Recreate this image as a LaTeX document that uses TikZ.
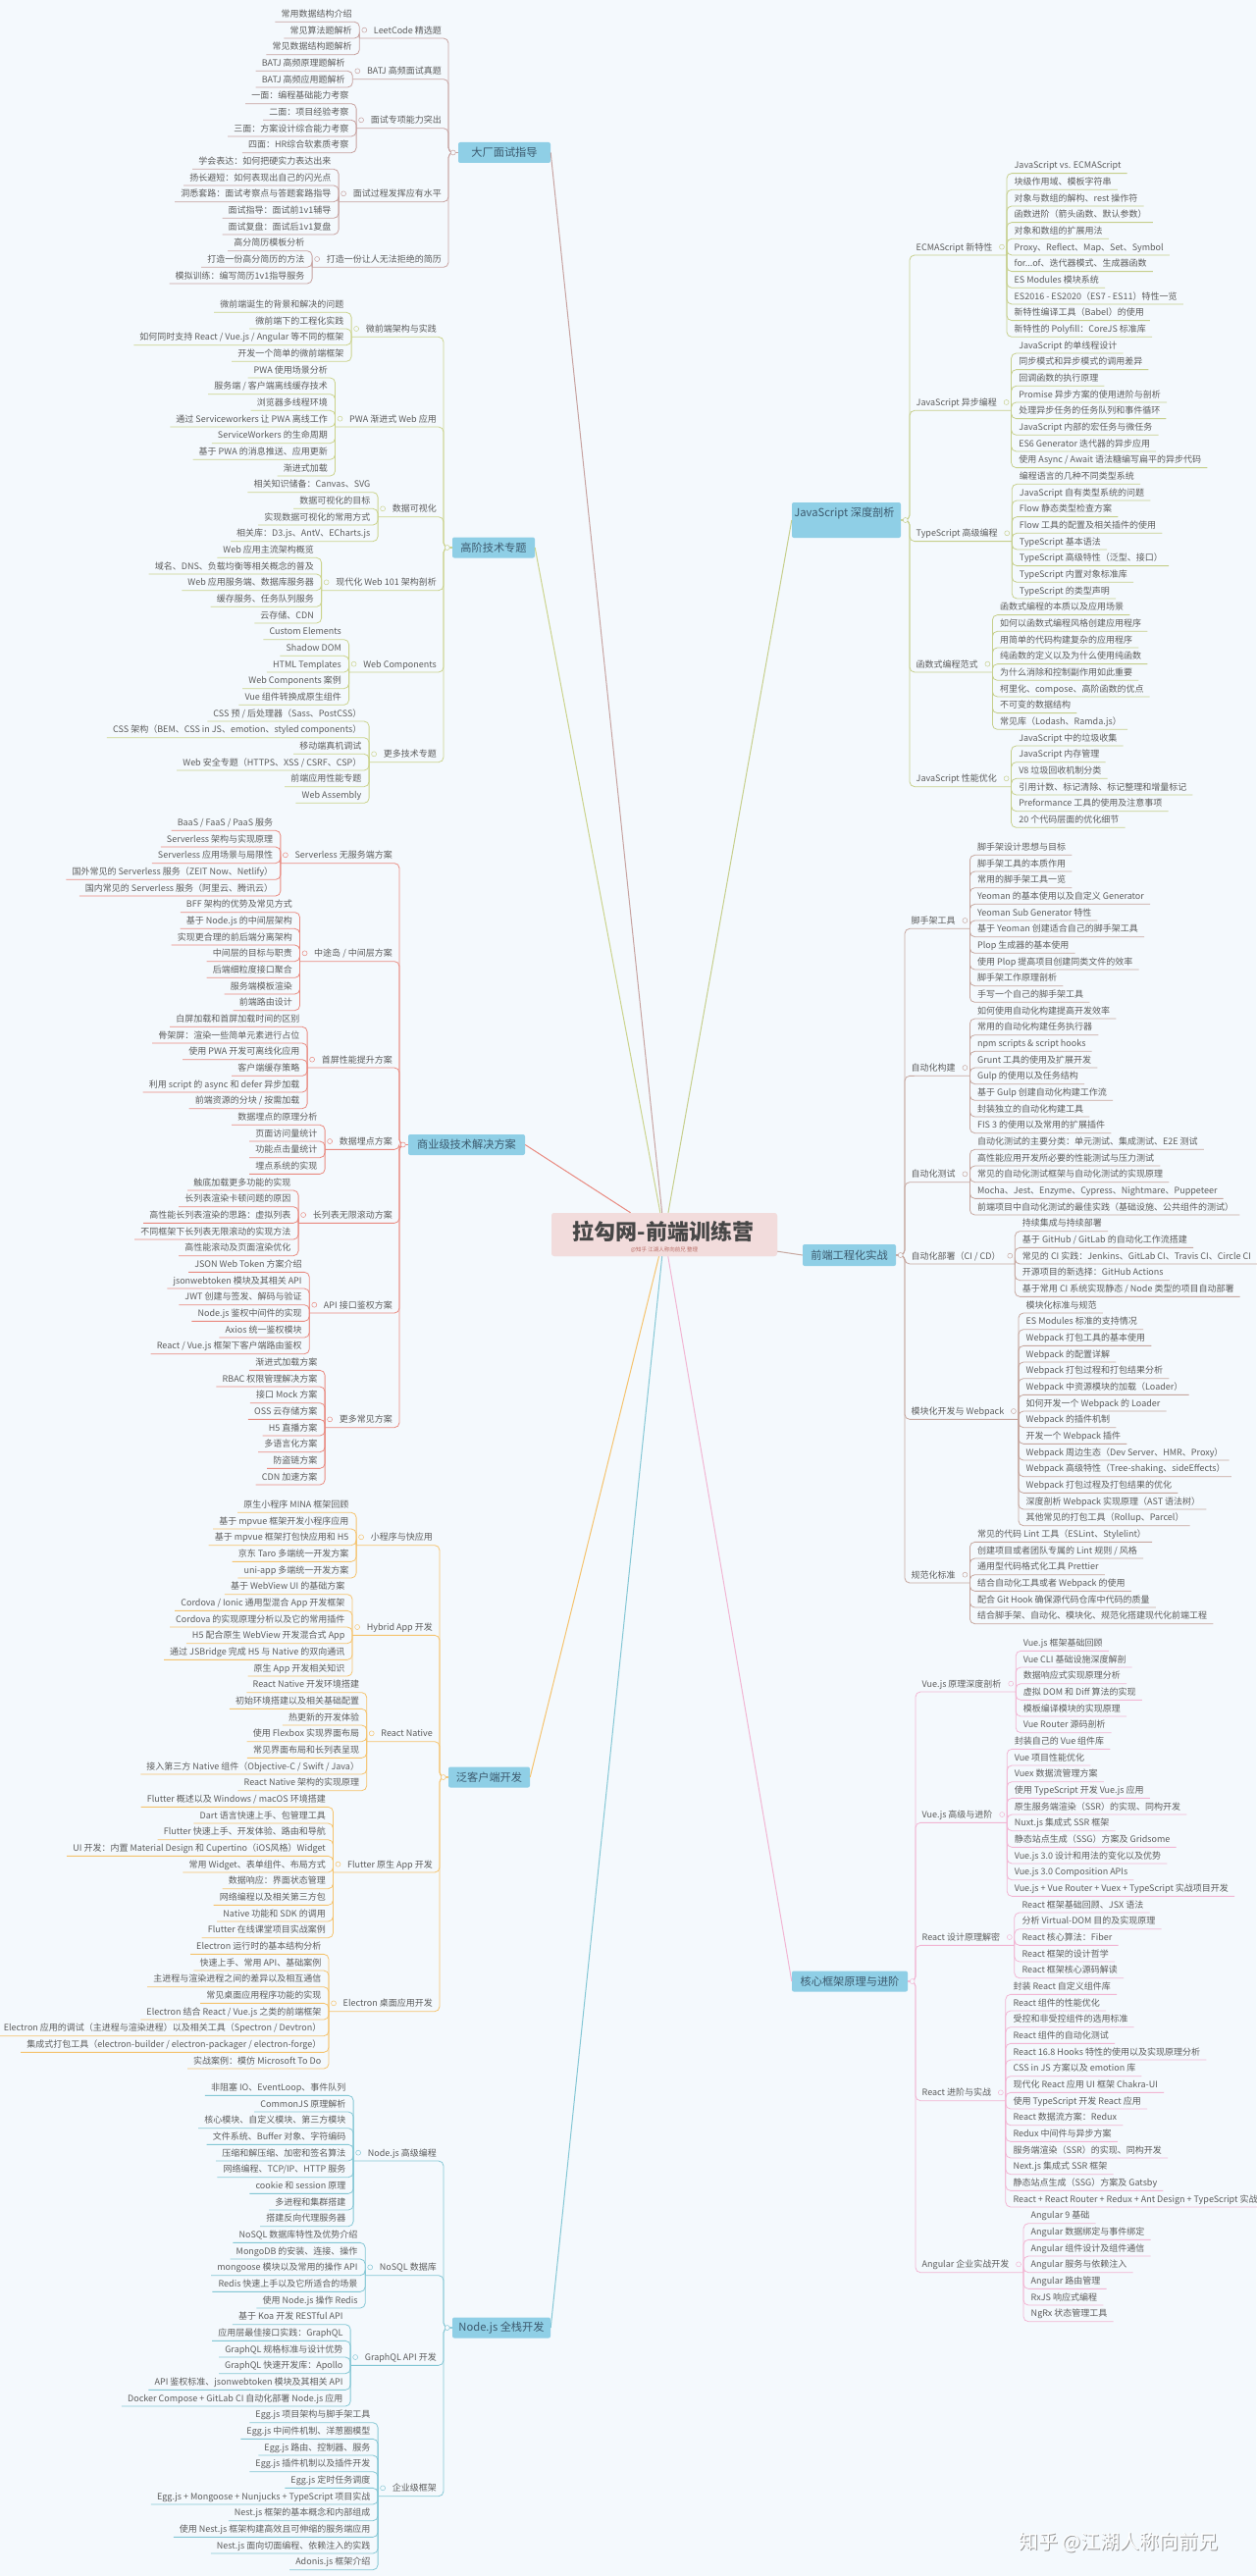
\documentclass[tikz,border=0pt]{standalone}
\usepackage{fontspec}
\setmainfont{Noto Sans CJK SC}
\usetikzlibrary{positioning, calc}

\definecolor{bg}{HTML}{F4F9FD}
\definecolor{boxblue}{HTML}{8FCFE6}
\definecolor{titlepink}{HTML}{F2DCDC}
\definecolor{ink}{HTML}{5C5C5C}
\definecolor{mainink}{HTML}{3C5A6E}
\definecolor{colA}{HTML}{C7A2A0}
\definecolor{colB}{HTML}{CBD38C}
\definecolor{colC}{HTML}{E98A80}
\definecolor{colD}{HTML}{F4C36E}
\definecolor{colE}{HTML}{84C7D5}
\definecolor{colF}{HTML}{C6CF8C}
\definecolor{colG}{HTML}{C6A79F}
\definecolor{colH}{HTML}{F2B5D3}

\newcount\rowno
\newcount\nleaf
\def\rowh{16.667}

% one sub topic with its leaves, left of the trunk
\newcommand\subL[5]{%
  \global\nleaf=0
  \foreach \lf in {#5} {\global\advance\nleaf by 1}
  \pgfmathsetmacro\yfirst{\ytop+\rowh*\the\rowno}
  \pgfmathsetmacro\ysub{\yfirst+\rowh*(\the\nleaf-1)/2}
  \pgfmathsetmacro\yline{\ysub+\rowh/2}
  \node (#1) at (#3-7,\ysub) [topic, anchor=east] {#4};
  \coordinate (#1-j) at ([shift={(-14.5pt,-8.33pt)}]#1.west);
  \coordinate (#1-t) at (#3,\yline);
  \draw[link] (#2.west) -- (#2.west -| #1-t) -- (#1-t) -- (#1-j);
  \node[knob] (#1-k) at ([xshift=-9.5pt]#1.west) {};
  \foreach \lf [count=\k from 0] in {#5} {
    \pgfmathsetmacro\yl{\yfirst+\rowh*\k}
    \node (#1-\k) at (#1-j |- 0,\yl) [leaf, anchor=east, xshift=-7.5pt] {\ignorespaces\lf\unskip};
    \coordinate (#1-\k-u) at ([shift={(-6pt,-8.33pt)}]#1-\k.west);
    \draw[link] (#1-j) -- (#1-j |- #1-\k-u) -- (#1-\k-u);
  }
  \global\advance\rowno by \nleaf
}

% the same, right of the trunk
\newcommand\subR[5]{%
  \global\nleaf=0
  \foreach \lf in {#5} {\global\advance\nleaf by 1}
  \pgfmathsetmacro\yfirst{\ytop+\rowh*\the\rowno}
  \pgfmathsetmacro\ysub{\yfirst+\rowh*(\the\nleaf-1)/2}
  \pgfmathsetmacro\yline{\ysub+\rowh/2}
  \node (#1) at (#3+6.5,\ysub) [topic, anchor=west] {#4};
  \coordinate (#1-j) at ([shift={(14.5pt,-8.33pt)}]#1.east);
  \coordinate (#1-t) at (#3,\yline);
  \draw[link] (#2.east) -- (#2.east -| #1-t) -- (#1-t) -- (#1-j);
  \node[knob] (#1-k) at ([xshift=9.5pt]#1.east) {};
  \foreach \lf [count=\k from 0] in {#5} {
    \pgfmathsetmacro\yl{\yfirst+\rowh*\k}
    \node (#1-\k) at (#1-j |- 0,\yl) [leaf, anchor=west, xshift=7.5pt] {\ignorespaces\lf\unskip};
    \coordinate (#1-\k-u) at ([shift={(6pt,-8.33pt)}]#1-\k.east);
    \draw[link] (#1-j) -- (#1-j |- #1-\k-u) -- (#1-\k-u);
  }
  \global\advance\rowno by \nleaf
}

\begin{document}
\begin{tikzpicture}[x=1pt, y=-1pt,
  leaf/.style={inner sep=0pt, text height=8pt, text depth=1pt, text=ink, font=\fontsize{9}{10}\selectfont},
  topic/.style={leaf},
  link/.style={line width=0.8pt, rounded corners=5pt},
  knob/.style={circle, draw, fill=bg, inner sep=0pt, minimum size=5pt, line width=0.5pt},
  mainbox/.style={fill=boxblue, rounded corners=2pt, text=mainink, inner sep=0pt, minimum height=21pt, font=\fontsize{11.2}{13}\selectfont},
  hub/.style={line width=1pt}]
\useasboundingbox (0,0) rectangle (1280,2625);
\fill[bg] (0,0) rectangle (1280,2625);

% centre and main topics
\node[fill=titlepink, rounded corners=3pt, minimum width=230pt, minimum height=44pt, inner sep=0pt] (c) at (677,1258) {};
\node[mainbox, minimum width=94pt] (dc) at (514,155.5) {大厂面试指导};
\node[mainbox, minimum width=84pt] (gj) at (503,558) {高阶技术专题};
\node[mainbox, minimum width=119pt] (sy) at (475.5,1166.5) {商业级技术解决方案};
\node[mainbox, minimum width=83pt] (fk) at (498.5,1811) {泛客户端开发};
\node[mainbox, minimum width=100pt] (nd) at (511,2372) {Node.js 全栈开发};
\node[mainbox, minimum width=111pt, minimum height=36pt] (js) at (862.5,530) {};
\node[mainbox, fill=none] (js-t) at (860.5,523) {JavaScript 深度剖析};
\node[mainbox, minimum width=95pt, minimum height=22pt] (gc) at (865.5,1279) {前端工程化实战};
\node[mainbox, minimum width=118pt] (hx) at (866,2019) {核心框架原理与进阶};

\draw[hub, colA] (c) -- (dc.east);
\draw[hub, colB] (c) -- (gj.east);
\draw[hub, colC] (c) -- (sy.east);
\draw[hub, colD] (c) -- (fk.east);
\draw[hub, colE] (c) -- (nd.east);
\draw[hub, colF] (c) -- (js.west);
\draw[hub, colG] (c) -- (gc.west);
\draw[hub, colH] (c) -- (hx.west);
\node[fill=titlepink, rounded corners=3pt, minimum width=230pt, minimum height=44pt, inner sep=0pt] (c-b) at (677,1258) {};
\node[text=black!72, font=\fontsize{22}{24}\selectfont\bfseries] (c-t) at (676,1255) {拉勾网-前端训练营};
\node[text=colC!80!black, font=\fontsize{5.5}{6}\selectfont] (c-s) at (677,1274) {@知乎 江湖人称向前兄 整理};

% 大厂面试指导
\begin{scope}[link/.append style={draw=colA}, knob/.append style={draw=colA}]
\global\rowno=0 \def\ytop{14}
\subL{a1}{dc}{457}{LeetCode 精选题}{常用数据结构介绍,常见算法题解析,常见数据结构题解析}
\subL{a2}{dc}{457}{BATJ 高频面试真题}{BATJ 高频原理题解析,BATJ 高频应用题解析}
\subL{a3}{dc}{457}{面试专项能力突出}{一面：编程基础能力考察,二面：项目经验考察,三面：方案设计综合能力考察,四面：HR综合软素质考察}
\subL{a4}{dc}{457}{面试过程发挥应有水平}{学会表达：如何把硬实力表达出来,扬长避短：如何表现出自己的闪光点,洞悉套路：面试考察点与答题套路指导,面试指导：面试前1v1辅导,面试复盘：面试后1v1复盘}
\subL{a5}{dc}{457}{打造一份让人无法拒绝的简历}{高分简历模板分析,打造一份高分简历的方法,模拟训练：编写简历1v1指导服务}
\node[knob] (dc-k) at ([xshift=-5pt]dc.west) {};
\end{scope}

% 高阶技术专题
\begin{scope}[link/.append style={draw=colB}, knob/.append style={draw=colB}]
\global\rowno=0 \def\ytop{310}
\subL{b1}{gj}{452}{微前端架构与实践}{微前端诞生的背景和解决的问题,微前端下的工程化实践,如何同时支持 React / Vue.js / Angular 等不同的框架,开发一个简单的微前端框架}
\subL{b2}{gj}{452}{PWA 渐进式 Web 应用}{PWA 使用场景分析,服务端 / 客户端离线缓存技术,浏览器多线程环境,通过 Serviceworkers 让 PWA 离线工作,ServiceWorkers 的生命周期,基于 PWA 的消息推送、应用更新,渐进式加载}
\subL{b3}{gj}{452}{数据可视化}{相关知识储备：Canvas、SVG,数据可视化的目标,实现数据可视化的常用方式,相关库：D3.js、AntV、ECharts.js}
\subL{b4}{gj}{452}{现代化 Web 101 架构剖析}{Web 应用主流架构概览,域名、DNS、负载均衡等相关概念的普及,Web 应用服务端、数据库服务器,缓存服务、任务队列服务,云存储、CDN}
\subL{b5}{gj}{452}{Web Components}{Custom Elements,Shadow DOM,HTML Templates,Web Components 案例,Vue 组件转换成原生组件}
\subL{b6}{gj}{452}{更多技术专题}{CSS 预 / 后处理器（Sass、PostCSS）,CSS 架构（BEM、CSS in JS、emotion、styled components）,移动端真机调试,Web 安全专题（HTTPS、XSS / CSRF、CSP）,前端应用性能专题,Web Assembly}
\node[knob] (gj-k) at ([xshift=-5pt]gj.west) {};
\end{scope}

% 商业级技术解决方案
\begin{scope}[link/.append style={draw=colC}, knob/.append style={draw=colC}]
\global\rowno=0 \def\ytop{838}
\subL{c1}{sy}{407}{Serverless 无服务端方案}{BaaS / FaaS / PaaS 服务,Serverless 架构与实现原理,Serverless 应用场景与局限性,国外常见的 Serverless 服务（ZEIT Now、Netlify）,国内常见的 Serverless 服务（阿里云、腾讯云）}
\subL{c2}{sy}{407}{中途岛 / 中间层方案}{BFF 架构的优势及常见方式,基于 Node.js 的中间层架构,实现更合理的前后端分离架构,中间层的目标与职责,后端细粒度接口聚合,服务端模板渲染,前端路由设计}
\subL{c3}{sy}{407}{首屏性能提升方案}{白屏加载和首屏加载时间的区别,骨架屏：渲染一些简单元素进行占位,使用 PWA 开发可离线化应用,客户端缓存策略,利用 script 的 async 和 defer 异步加载,前端资源的分块 / 按需加载}
\subL{c4}{sy}{407}{数据埋点方案}{数据埋点的原理分析,页面访问量统计,功能点击量统计,埋点系统的实现}
\subL{c5}{sy}{407}{长列表无限滚动方案}{触底加载更多功能的实现,长列表渲染卡顿问题的原因,高性能长列表渲染的思路：虚拟列表,不同框架下长列表无限滚动的实现方法,高性能滚动及页面渲染优化}
\subL{c6}{sy}{407}{API 接口鉴权方案}{JSON Web Token 方案介绍,jsonwebtoken 模块及其相关 API,JWT 创建与签发、解码与验证,Node.js 鉴权中间件的实现,Axios 统一鉴权模块,React / Vue.js 框架下客户端路由鉴权}
\subL{c7}{sy}{407}{更多常见方案}{渐进式加载方案,RBAC 权限管理解决方案,接口 Mock 方案,OSS 云存储方案,H5 直播方案,多语言化方案,防盗链方案,CDN 加速方案}
\node[knob] (sy-k) at ([xshift=-5pt]sy.west) {};
\end{scope}

% 泛客户端开发
\begin{scope}[link/.append style={draw=colD}, knob/.append style={draw=colD}]
\global\rowno=0 \def\ytop{1533}
\subL{d1}{fk}{448}{小程序与快应用}{原生小程序 MINA 框架回顾,基于 mpvue 框架开发小程序应用,基于 mpvue 框架打包快应用和 H5,京东 Taro 多端统一开发方案,uni-app 多端统一开发方案}
\subL{d2}{fk}{448}{Hybrid App 开发}{基于 WebView UI 的基础方案,Cordova / Ionic 通用型混合 App 开发框架,Cordova 的实现原理分析以及它的常用插件,H5 配合原生 WebView 开发混合式 App,通过 JSBridge 完成 H5 与 Native 的双向通讯,原生 App 开发相关知识}
\subL{d3}{fk}{448}{React Native}{React Native 开发环境搭建,初始环境搭建以及相关基础配置,热更新的开发体验,使用 Flexbox 实现界面布局,常见界面布局和长列表呈现,接入第三方 Native 组件（Objective-C / Swift / Java）,React Native 架构的实现原理}
\subL{d4}{fk}{448}{Flutter 原生 App 开发}{Flutter 概述以及 Windows / macOS 环境搭建,Dart 语言快速上手、包管理工具,Flutter 快速上手、开发体验、路由和导航,UI 开发：内置 Material Design 和 Cupertino（iOS风格）Widget,常用 Widget、表单组件、布局方式,数据响应：界面状态管理,网络编程以及相关第三方包,Native 功能和 SDK 的调用,Flutter 在线课堂项目实战案例}
\subL{d5}{fk}{448}{Electron 桌面应用开发}{Electron 运行时的基本结构分析,快速上手、常用 API、基础案例,主进程与渲染进程之间的差异以及相互通信,常见桌面应用程序功能的实现,Electron 结合 React / Vue.js 之类的前端框架,Electron 应用的调试（主进程与渲染进程）以及相关工具（Spectron / Devtron）,集成式打包工具（electron-builder / electron-packager / electron-forge）,实战案例：模仿 Microsoft To Do}
\node[knob] (fk-k) at ([xshift=-5pt]fk.west) {};
\end{scope}

% Node.js 全栈开发
\begin{scope}[link/.append style={draw=colE}, knob/.append style={draw=colE}]
\global\rowno=0 \def\ytop{2127}
\subL{e1}{nd}{452}{Node.js 高级编程}{非阻塞 IO、EventLoop、事件队列,CommonJS 原理解析,核心模块、自定义模块、第三方模块,文件系统、Buffer 对象、字符编码,压缩和解压缩、加密和签名算法,网络编程、TCP/IP、HTTP 服务,cookie 和 session 原理,多进程和集群搭建,搭建反向代理服务器}
\subL{e2}{nd}{452}{NoSQL 数据库}{NoSQL 数据库特性及优势介绍,MongoDB 的安装、连接、操作,mongoose 模块以及常用的操作 API,Redis 快速上手以及它所适合的场景,使用 Node.js 操作 Redis}
\subL{e3}{nd}{452}{GraphQL API 开发}{基于 Koa 开发 RESTful API,应用层最佳接口实践：GraphQL,GraphQL 规格标准与设计优势,GraphQL 快速开发库：Apollo,API 鉴权标准、jsonwebtoken 模块及其相关 API,Docker Compose + GitLab CI 自动化部署 Node.js 应用}
\subL{e4}{nd}{452}{企业级框架}{Egg.js 项目架构与脚手架工具,Egg.js 中间件机制、洋葱圈模型,Egg.js 路由、控制器、服务,Egg.js 插件机制以及插件开发,Egg.js 定时任务调度,Egg.js + Mongoose + Nunjucks + TypeScript 项目实战,Nest.js 框架的基本概念和内部组成,使用 Nest.js 框架构建高效且可伸缩的服务端应用,Nest.js 面向切面编程、依赖注入的实践,Adonis.js 框架介绍}
\node[knob] (nd-k) at ([xshift=-5pt]nd.west) {};
\end{scope}

% JavaScript 深度剖析
\begin{scope}[link/.append style={draw=colF}, knob/.append style={draw=colF}]
\global\rowno=0 \def\ytop{168.3}
\subR{f1}{js}{927}{ECMAScript 新特性}{JavaScript vs. ECMAScript,块级作用域、模板字符串,对象与数组的解构、rest 操作符,函数进阶（箭头函数、默认参数）,对象和数组的扩展用法,Proxy、Reflect、Map、Set、Symbol,for{.}..of、迭代器模式、生成器函数,ES Modules 模块系统,ES2016 - ES2020（ES7 - ES11）特性一览,新特性编译工具（Babel）的使用,新特性的 Polyfill：CoreJS 标准库}
\subR{f2}{js}{927}{JavaScript 异步编程}{JavaScript 的单线程设计,同步模式和异步模式的调用差异,回调函数的执行原理,Promise 异步方案的使用进阶与剖析,处理异步任务的任务队列和事件循环,JavaScript 内部的宏任务与微任务,ES6 Generator 迭代器的异步应用,使用 Async / Await 语法糖编写扁平的异步代码}
\subR{f3}{js}{927}{TypeScript 高级编程}{编程语言的几种不同类型系统,JavaScript 自有类型系统的问题,Flow 静态类型检查方案,Flow 工具的配置及相关插件的使用,TypeScript 基本语法,TypeScript 高级特性（泛型、接口）,TypeScript 内置对象标准库,TypeScript 的类型声明}
\subR{f4}{js}{927}{函数式编程范式}{函数式编程的本质以及应用场景,如何以函数式编程风格创建应用程序,用简单的代码构建复杂的应用程序,纯函数的定义以及为什么使用纯函数,为什么消除和控制副作用如此重要,柯里化、compose、高阶函数的优点,不可变的数据结构,常见库（Lodash、Ramda.js）}
\subR{f5}{js}{927}{JavaScript 性能优化}{JavaScript 中的垃圾收集,JavaScript 内存管理,V8 垃圾回收机制分类,引用计数、标记清除、标记整理和增量标记,Preformance 工具的使用及注意事项,20 个代码层面的优化细节}
\node[knob] (js-k) at ([xshift=4.5pt]js.east) {};
\end{scope}

% 前端工程化实战
\begin{scope}[link/.append style={draw=colG}, knob/.append style={draw=colG}]
\global\rowno=0 \def\ytop{863}
\subR{g1}{gc}{922}{脚手架工具}{脚手架设计思想与目标,脚手架工具的本质作用,常用的脚手架工具一览,Yeoman 的基本使用以及自定义 Generator,Yeoman Sub Generator 特性,基于 Yeoman 创建适合自己的脚手架工具,Plop 生成器的基本使用,使用 Plop 提高项目创建同类文件的效率,脚手架工作原理剖析,手写一个自己的脚手架工具}
\subR{g2}{gc}{922}{自动化构建}{如何使用自动化构建提高开发效率,常用的自动化构建任务执行器,npm scripts \& script hooks,Grunt 工具的使用及扩展开发,Gulp 的使用以及任务结构,基于 Gulp 创建自动化构建工作流,封装独立的自动化构建工具,FIS 3 的使用以及常用的扩展插件}
\subR{g3}{gc}{922}{自动化测试}{自动化测试的主要分类：单元测试、集成测试、E2E 测试,高性能应用开发所必要的性能测试与压力测试,常见的自动化测试框架与自动化测试的实现原理,Mocha、Jest、Enzyme、Cypress、Nightmare、Puppeteer,前端项目中自动化测试的最佳实践（基础设施、公共组件的测试）}
\subR{g4}{gc}{922}{自动化部署（CI / CD）}{持续集成与持续部署,基于 GitHub / GitLab 的自动化工作流搭建,常见的 CI 实践：Jenkins、GitLab CI、Travis CI、Circle CI,开源项目的新选择：GitHub Actions,基于常用 CI 系统实现静态 / Node 类型的项目自动部署}
\subR{g5}{gc}{922}{模块化开发与 Webpack}{模块化标准与规范,ES Modules 标准的支持情况,Webpack 打包工具的基本使用,Webpack 的配置详解,Webpack 打包过程和打包结果分析,Webpack 中资源模块的加载（Loader）,如何开发一个 Webpack 的 Loader,Webpack 的插件机制,开发一个 Webpack 插件,Webpack 周边生态（Dev Server、HMR、Proxy）,Webpack 高级特性（Tree-shaking、sideEffects）,Webpack 打包过程及打包结果的优化,深度剖析 Webpack 实现原理（AST 语法树）,其他常见的打包工具（Rollup、Parcel）}
\subR{g6}{gc}{922}{规范化标准}{常见的代码 Lint 工具（ESLint、Stylelint）,创建项目或者团队专属的 Lint 规则 / 风格,通用型代码格式化工具 Prettier,结合自动化工具或者 Webpack 的使用,配合 Git Hook 确保源代码仓库中代码的质量,结合脚手架、自动化、模块化、规范化搭建现代化前端工程}
\node[knob] (gc-k) at ([xshift=4.5pt]gc.east) {};
\end{scope}

% 核心框架原理与进阶
\begin{scope}[link/.append style={draw=colH}, knob/.append style={draw=colH}]
\global\rowno=0 \def\ytop{1674}
\subR{h1}{hx}{933}{Vue.js 原理深度剖析}{Vue.js 框架基础回顾,Vue CLI 基础设施深度解剖,数据响应式实现原理分析,虚拟 DOM 和 Diff 算法的实现,模板编译模块的实现原理,Vue Router 源码剖析}
\subR{h2}{hx}{933}{Vue.js 高级与进阶}{封装自己的 Vue 组件库,Vue 项目性能优化,Vuex 数据流管理方案,使用 TypeScript 开发 Vue.js 应用,原生服务端渲染（SSR）的实现、同构开发,Nuxt.js 集成式 SSR 框架,静态站点生成（SSG）方案及 Gridsome,Vue.js 3.0 设计和用法的变化以及优势,Vue.js 3.0 Composition APIs,Vue.js + Vue Router + Vuex + TypeScript 实战项目开发}
\subR{h3}{hx}{933}{React 设计原理解密}{React 框架基础回顾、JSX 语法,分析 Virtual-DOM 目的及实现原理,React 核心算法：Fiber,React 框架的设计哲学,React 框架核心源码解读}
\subR{h4}{hx}{933}{React 进阶与实战}{封装 React 自定义组件库,React 组件的性能优化,受控和非受控组件的选用标准,React 组件的自动化测试,React 16.8 Hooks 特性的使用以及实现原理分析,CSS in JS 方案以及 emotion 库,现代化 React 应用 UI 框架 Chakra-UI,使用 TypeScript 开发 React 应用,React 数据流方案：Redux,Redux 中间件与异步方案,服务端渲染（SSR）的实现、同构开发,Next.js 集成式 SSR 框架,静态站点生成（SSG）方案及 Gatsby,React + React Router + Redux + Ant Design + TypeScript 实战}
\subR{h5}{hx}{933}{Angular 企业实战开发}{Angular 9 基础,Angular 数据绑定与事件绑定,Angular 组件设计及组件通信,Angular 服务与依赖注入,Angular 路由管理,RxJS 响应式编程,NgRx 状态管理工具}
\node[knob] (hx-k) at ([xshift=4.5pt]hx.east) {};
\end{scope}

\node[text=black!40, font=\fontsize{20}{22}\selectfont] (wm-s) at (1141,2592) {知乎 @江湖人称向前兄};
\node[text=white, font=\fontsize{20}{22}\selectfont] (wm) at (1140,2591) {知乎 @江湖人称向前兄};
\end{tikzpicture}
\end{document}
